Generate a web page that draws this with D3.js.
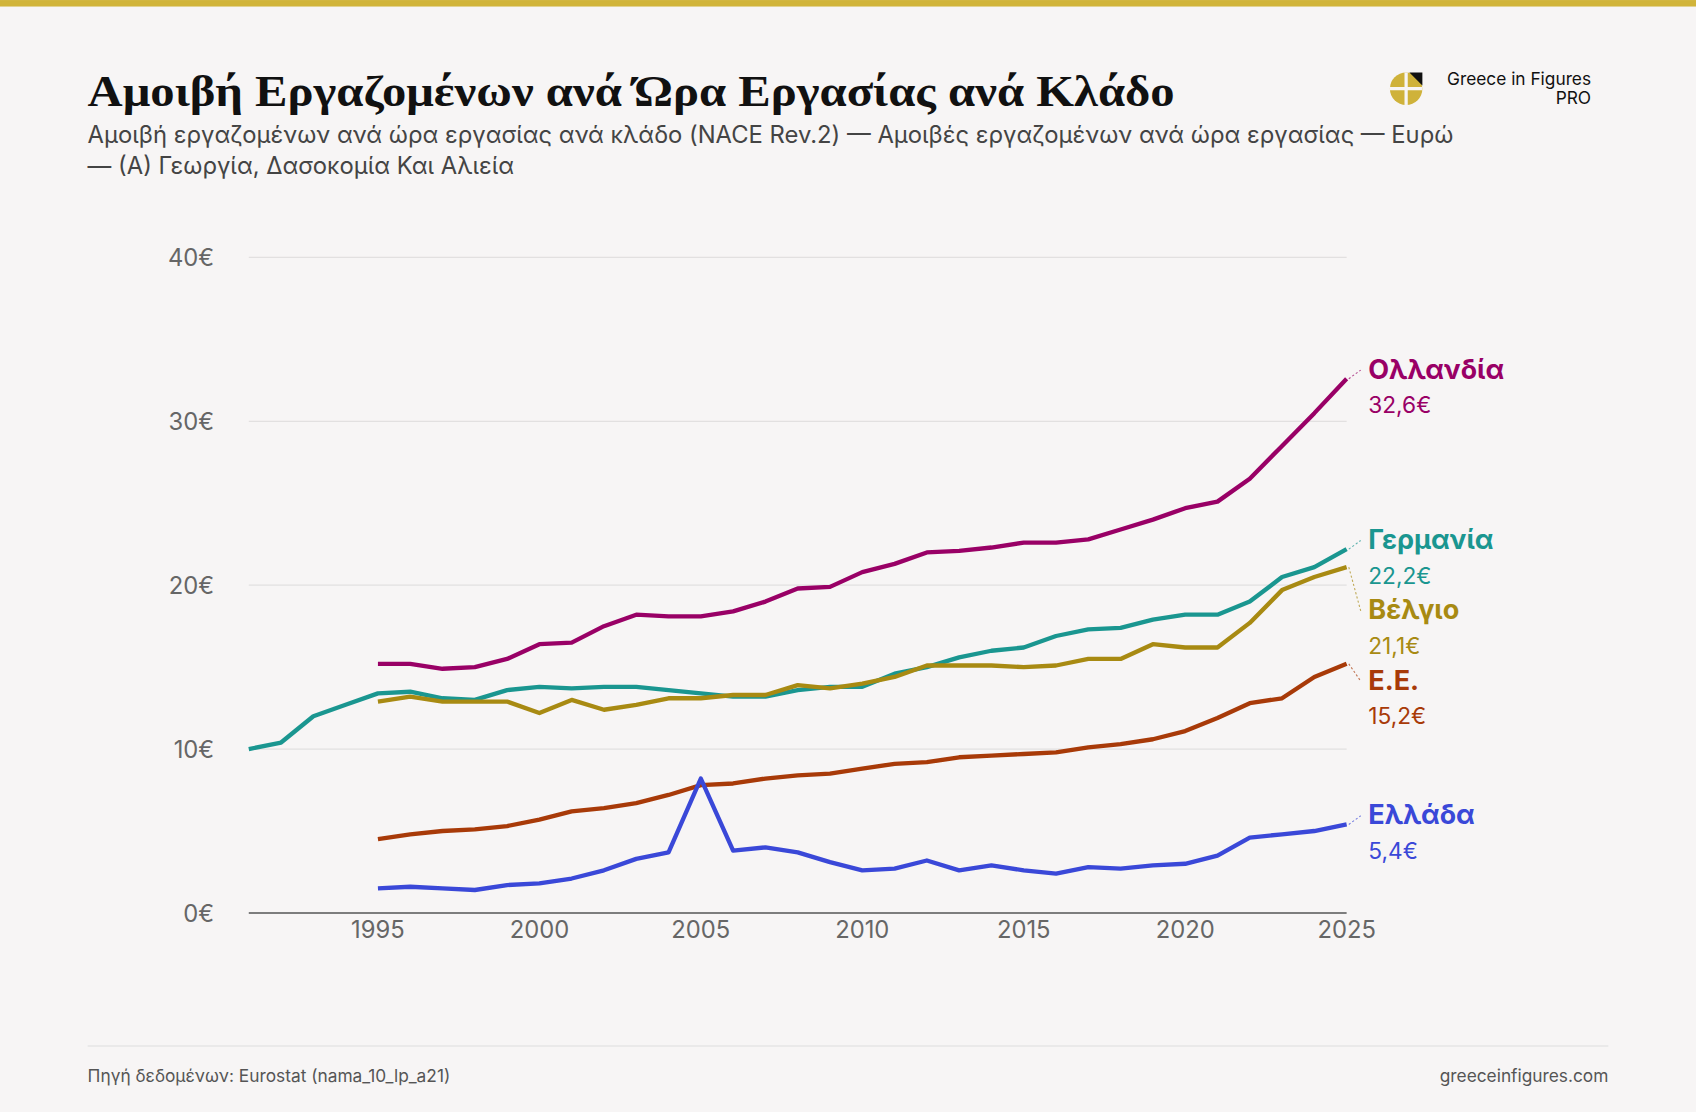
<!DOCTYPE html>
<html><head><meta charset="utf-8">
<script src="https://cdn.jsdelivr.net/npm/d3@7"></script>
<style>body{margin:0;background:#f7f5f5;}svg{display:block;font-family:Inter,"Noto Sans",sans-serif;}</style>
</head><body>
<script>
const yearsNL=d3.range(1995,2026), yearsDE=d3.range(1991,2026);
const netherlands=[15.2,15.2,14.9,15.0,15.5,16.4,16.5,17.5,18.2,18.1,18.1,18.4,19.0,19.8,19.9,20.8,21.3,22.0,22.1,22.3,22.6,22.6,22.8,23.4,24.0,24.7,25.1,26.5,28.5,30.5,32.6];
const germany=[10.0,10.4,12.0,12.7,13.4,13.5,13.1,13.0,13.6,13.8,13.7,13.8,13.8,13.6,13.4,13.2,13.2,13.6,13.8,13.8,14.6,15.0,15.6,16.0,16.2,16.9,17.3,17.4,17.9,18.2,18.2,19.0,20.5,21.1,22.2];
const belgium=[12.9,13.2,12.9,12.9,12.9,12.2,13.0,12.4,12.7,13.1,13.1,13.3,13.3,13.9,13.7,14.0,14.4,15.1,15.1,15.1,15.0,15.1,15.5,15.5,16.4,16.2,16.2,17.7,19.7,20.5,21.1];
const eu=[4.5,4.8,5.0,5.1,5.3,5.7,6.2,6.4,6.7,7.2,7.8,7.9,8.2,8.4,8.5,8.8,9.1,9.2,9.5,9.6,9.7,9.8,10.1,10.3,10.6,11.1,11.9,12.8,13.1,14.4,15.2];
const greece=[1.5,1.6,1.5,1.4,1.7,1.8,2.1,2.6,3.3,3.7,8.2,3.8,4.0,3.7,3.1,2.6,2.7,3.2,2.6,2.9,2.6,2.4,2.8,2.7,2.9,3.0,3.5,4.6,4.8,5.0,5.4];
const seriesNames=["Ολλανδία","Γερμανία","Βέλγιο","Ε.Ε.","Ελλάδα"];
const seriesColors=["#990066","#1a9690","#a88a12","#a83a08","#3a48d8"];
const yTicks=[0,10,20,30,40], xTicks=[1995,2000,2005,2010,2015,2020,2025];

const series=[
 {name:seriesNames[0],color:seriesColors[0],years:yearsNL,vals:netherlands},
 {name:seriesNames[1],color:seriesColors[1],years:yearsDE,vals:germany},
 {name:seriesNames[2],color:seriesColors[2],years:yearsNL,vals:belgium},
 {name:seriesNames[3],color:seriesColors[3],years:yearsNL,vals:eu},
 {name:seriesNames[4],color:seriesColors[4],years:yearsNL,vals:greece}];

const W=1568,H=1028;
const svg=d3.select("body").append("svg").attr("width",1696).attr("height",1112).attr("viewBox",`0 0 ${W} ${H}`);
svg.append("rect").attr("width",W).attr("height",H).attr("fill","#f7f5f5");
svg.append("rect").attr("width",W).attr("height",6).attr("fill","#d1b43a");
svg.append("text").attr("x",81).attr("y",98).attr("font-family","'Liberation Serif','DejaVu Serif',serif").attr("font-weight","bold").attr("font-size",41).attr("fill","#111").attr("textLength",1005).attr("lengthAdjust","spacingAndGlyphs").text("Αμοιβή Εργαζομένων ανά Ώρα Εργασίας ανά Κλάδο");
const sub=["Αμοιβή εργαζομένων ανά ώρα εργασίας ανά κλάδο (NACE Rev.2) — Αμοιβές εργαζομένων ανά ώρα εργασίας — Ευρώ","— (A) Γεωργία, Δασοκομία Και Αλιεία"];
sub.forEach((s,i)=>svg.append("text").attr("x",81).attr("y",132+i*29).attr("font-size",22).attr("fill","#444").text(s));
// logo
const lg=svg.append("g").attr("transform","translate(1300,82)");
lg.append("circle").attr("r",15).attr("fill","#cfb23a");
lg.append("line").attr("x1",-15).attr("x2",15).attr("y1",0).attr("y2",0).attr("stroke","#f7f5f5").attr("stroke-width",3);
lg.append("line").attr("x1",0).attr("x2",0).attr("y1",-15).attr("y2",15).attr("stroke","#f7f5f5").attr("stroke-width",3);
lg.append("path").attr("d","M3,-15 L15,-15 L15,-3 Z").attr("fill","#111");
svg.append("text").attr("x",1471).attr("y",79).attr("text-anchor","end").attr("font-size",16).attr("fill","#111").text("Greece in Figures");
svg.append("text").attr("x",1471).attr("y",96).attr("text-anchor","end").attr("font-size",16).attr("fill","#111").text("PRO");

const x=d3.scaleLinear().domain([1991,2025]).range([230,1245]);
const y=d3.scaleLinear().domain([0,40]).range([844,238]);
const fmt=v=>d3.format(".1f")(v).replace(".",",")+"€";
svg.append("g").selectAll("line").data(yTicks).join("line").attr("x1",230).attr("x2",1245).attr("y1",d=>y(d)).attr("y2",d=>y(d)).attr("stroke",d=>d===0?"#555":"#e2e0e0").attr("stroke-width",d=>d===0?1.5:1.2);
svg.append("g").selectAll("text").data(yTicks).join("text").attr("x",198).attr("y",d=>y(d)+8).attr("text-anchor","end").attr("font-size",22).attr("fill","#666").text(d=>d+"€");
svg.append("g").selectAll("text").data(xTicks).join("text").attr("x",d=>x(d)).attr("y",867).attr("text-anchor","middle").attr("font-size",22).attr("fill","#666").text(d=>d);

const line=d3.line().x(d=>x(d[0])).y(d=>y(d[1]));
series.forEach(s=>{
 svg.append("path").datum(s.years.map((yr,i)=>[yr,s.vals[i]])).attr("d",line).attr("fill","none").attr("stroke",s.color).attr("stroke-width",4).attr("stroke-linejoin","round");
});
let prev=-1e9;
series.forEach(s=>{
 const ey=y(s.vals[s.vals.length-1]);
 let ly=Math.max(ey-8,prev+65); prev=ly;
 svg.append("line").attr("x1",x(2025)+2).attr("y1",ey).attr("x2",1258).attr("y2",ly).attr("stroke",s.color).attr("stroke-width",1).attr("stroke-dasharray","2,2").attr("opacity",0.7);
 svg.append("text").attr("x",1265).attr("y",ly+8).attr("font-size",25).attr("font-weight","bold").attr("fill",s.color).text(s.name);
 svg.append("text").attr("x",1265).attr("y",ly+40).attr("font-size",21).attr("fill",s.color).text(fmt(s.vals[s.vals.length-1]));
});
svg.append("line").attr("x1",81).attr("x2",1487).attr("y1",967).attr("y2",967).attr("stroke","#ddd");
svg.append("text").attr("x",81).attr("y",1000).attr("font-size",16).attr("fill","#555").text("Πηγή δεδομένων: Eurostat (nama_10_lp_a21)");
svg.append("text").attr("x",1487).attr("y",1000).attr("text-anchor","end").attr("font-size",16).attr("fill","#555").text("greeceinfigures.com");
</script></body></html>
